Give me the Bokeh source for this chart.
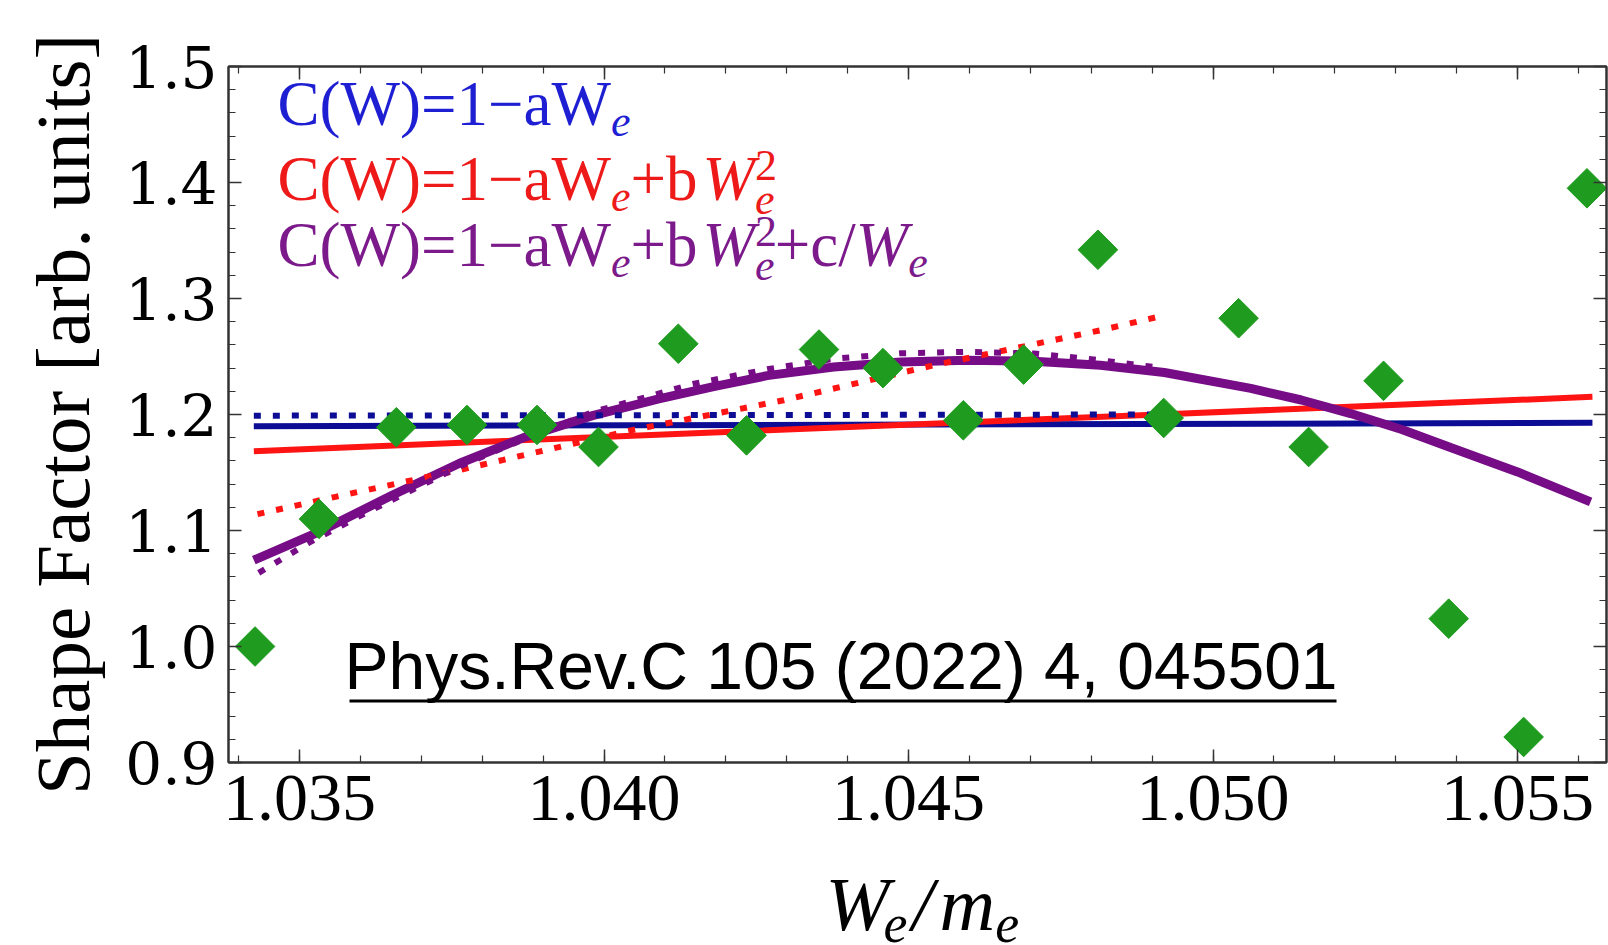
import numpy as np
from bokeh.plotting import figure
from bokeh.layouts import column
from bokeh.models import (Range1d, LinearAxis, FixedTicker, PrintfTickFormatter,
                          CustomJSTickFormatter, Label, BoxAnnotation)
from bokeh.embed import file_html
from bokeh.resources import INLINE

# ---- measured shape factor (green diamonds) ----
w_data = [1.03427, 1.03532, 1.03659, 1.03775, 1.03890, 1.03991, 1.04122, 1.04234,
          1.04353, 1.04458, 1.04590, 1.04689, 1.04811, 1.04919, 1.05042, 1.05157,
          1.05280, 1.05387, 1.05510, 1.05614]
s_data = [1.000, 1.110, 1.189, 1.191, 1.191, 1.172, 1.261, 1.182,
          1.256, 1.240, 1.195, 1.243, 1.342, 1.197, 1.283, 1.172,
          1.229, 1.024, 0.922, 1.395]

# ---- fits over the full range (solid) ----
lin_full_w = [1.03425, 1.05623]
lin_full_c = [1.1899, 1.1928]

quad_full_w = [1.03425, 1.04159, 1.04952, 1.05623]
quad_full_c = [1.1684, 1.1840, 1.2009, 1.2152]

inv_full_w = [1.03425, 1.03532, 1.03652, 1.03762, 1.03871, 1.03981, 1.04090, 1.04180,
              1.04268, 1.04377, 1.04487, 1.04596, 1.04706, 1.04815, 1.04920, 1.05062,
              1.05145, 1.05226, 1.05310, 1.05390, 1.05500, 1.05620]
inv_full_c = [1.0744, 1.0988, 1.1304, 1.1578, 1.1807, 1.1990, 1.2135, 1.2240,
              1.2335, 1.2410, 1.2453, 1.2468, 1.2459, 1.2425, 1.2362, 1.2225,
              1.2125, 1.2008, 1.1870, 1.1715, 1.1505, 1.1247]

# ---- fits over the restricted range (dotted) ----
lin_part_w = [1.03425, 1.04920]
lin_part_c = [1.1990, 1.2000]

quad_part_w = [1.03431, 1.03559, 1.03773, 1.04046, 1.04295, 1.04542, 1.04816, 1.04914]
quad_part_c = [1.1141, 1.1290, 1.1534, 1.1865, 1.2123, 1.2425, 1.2727, 1.2847]

inv_part_w = [1.03433, 1.03515, 1.03597, 1.03762, 1.03871, 1.03981, 1.04145, 1.04268,
              1.04377, 1.04487, 1.04596, 1.04706, 1.04804, 1.04910]
inv_part_c = [1.0635, 1.0893, 1.1120, 1.1550, 1.1794, 1.2020, 1.2262, 1.2390,
              1.2480, 1.2528, 1.2540, 1.2526, 1.2475, 1.2405]

# ---- axis ticks ----
x_major = [1.035, 1.040, 1.045, 1.050, 1.055]
x_minor = [round(1.034 + 0.001 * i, 3) for i in range(23)]
y_major = [0.9, 1.0, 1.1, 1.2, 1.3, 1.4, 1.5]
y_minor = [round(0.9 + 0.02 * i, 2) for i in range(31)]

BLUE = "#0c0c94"
RED = "#ff1414"
PURPLE = "#760c86"
GREEN = "#1f9c1f"
FRAME = "#333333"

PLOT_H = 850
TITLE_H = 95
LEFT_BORDER = 228

p = figure(width=1608, height=PLOT_H,
           x_range=Range1d(1.033834, 1.056461), y_range=Range1d(0.9, 1.5),
           output_backend="svg", toolbar_location=None,
           min_border_left=LEFT_BORDER, min_border_right=2, min_border_top=66,
           min_border_bottom=PLOT_H - 762)
p.grid.visible = False
p.background_fill_color = "white"
p.border_fill_color = "white"
p.outline_line_color = FRAME
p.outline_line_width = 2

xticker = FixedTicker(ticks=x_major, minor_ticks=x_minor)
yticker = FixedTicker(ticks=y_major, minor_ticks=y_minor)

bottom = p.below[0]
left = p.left[0]
bottom.ticker = xticker
left.ticker = yticker
bottom.formatter = PrintfTickFormatter(format="%.3f")
left.formatter = PrintfTickFormatter(format="%.1f")

blank = CustomJSTickFormatter(code="return ''")
top_axis = LinearAxis(ticker=xticker, formatter=blank, major_label_standoff=0,
                      major_label_text_font_size="0px")
right_axis = LinearAxis(ticker=yticker, formatter=blank, major_label_standoff=0,
                        major_label_text_font_size="0px")
p.add_layout(top_axis, "above")
p.add_layout(right_axis, "right")

for ax in [bottom, left, top_axis, right_axis]:
    ax.major_tick_in = 13
    ax.major_tick_out = 0
    ax.minor_tick_in = 7
    ax.minor_tick_out = 0
    ax.axis_line_color = FRAME
    ax.axis_line_width = 2
    ax.major_tick_line_color = FRAME
    ax.major_tick_line_width = 1.5
    ax.minor_tick_line_color = FRAME
    ax.minor_tick_line_width = 1.2

bottom.major_label_text_font = "Liberation Serif"
bottom.major_label_text_font_size = "68px"
bottom.major_label_text_color = "black"
bottom.major_label_standoff = 13

left.major_label_text_font = "DejaVu Serif"
left.major_label_text_font_size = "58px"
left.major_label_text_color = "black"
left.major_label_standoff = 11

left.axis_label = "Shape Factor [arb. units]"
left.axis_label_text_font = "Liberation Serif"
left.axis_label_text_font_size = "77px"
left.axis_label_text_font_style = "normal"
left.axis_label_text_color = "black"
left.axis_label_standoff = 16

# solid fits (full range)
p.line(lin_full_w, lin_full_c, line_color=BLUE, line_width=6)
p.line(quad_full_w, quad_full_c, line_color=RED, line_width=6)
p.line(inv_full_w, inv_full_c, line_color=PURPLE, line_width=9)

# dotted fits (restricted range)
p.line(lin_part_w, lin_part_c, line_color=BLUE, line_width=6, line_dash="7 12")
p.line(quad_part_w, quad_part_c, line_color=RED, line_width=6, line_dash="7 12")
p.line(inv_part_w, inv_part_c, line_color=PURPLE, line_width=6, line_dash="7 12")

# data points as diamonds
p.scatter(w_data, s_data, marker="square", size=28, angle=np.pi / 4,
          fill_color=GREEN, line_color=GREEN)

# ---- strip below the plot that carries the x-axis title ----
# (its frame is aligned with the plot frame by the column layout)
t = figure(width=1608, height=TITLE_H, x_range=Range1d(0, 1), y_range=Range1d(0, 1),
           output_backend="svg", toolbar_location=None,
           x_axis_location=None, y_axis_location=None,
           min_border_left=0, min_border_right=0, min_border_top=0, min_border_bottom=0)
t.grid.visible = False
t.outline_line_color = None
t.background_fill_color = "white"
t.border_fill_color = "white"

# ---- composed formula text ----
REG = {'C': 0.667, '(': 0.333, 'W': 0.944, ')': 0.333, '=': 0.564, '1': 0.5,
       '\u2212': 0.564, 'a': 0.444, '+': 0.564, 'b': 0.5, 'c': 0.444, '/': 0.278,
       '2': 0.5, ' ': 0.25}
ITA = {'W': 0.833, 'e': 0.444, 'm': 0.722, '/': 0.278}
BASE_FIX = 0.35  # label anchor correction, as a fraction of the font size


def run_width(s, style, size):
    tbl = ITA if style == "italic" else REG
    return sum(tbl.get(ch, 0.5) for ch in s) * size


def add_label(fig, x, y, text, font, fs, style, color):
    fig.add_layout(Label(x=x, y=y + BASE_FIX * fs, x_units="screen", y_units="screen",
                         text=text, text_font=font, text_font_size=f"{fs:.1f}px",
                         text_font_style=style, text_color=color,
                         text_baseline="alphabetic", text_align="left"))


def add_run(fig, pieces, x, y, size, color, font="Liberation Serif"):
    """pieces: (text, style, rel_size, rel_shift, advance)"""
    for text, style, rel, shift, advance in pieces:
        if text == "":
            x += rel * size
            continue
        fs = size * rel
        add_label(fig, x, y + shift * size, text, font, fs, style, color)
        if advance:
            x += run_width(text, style, fs)


head = [("C(W)=1\u2212aW", "normal", 1.0, 0.0, True), ("e", "italic", 0.7, -0.17, True)]
sq = [("+b", "normal", 1.0, 0.0, True), ("", "normal", 0.08, 0, True),
      ("W", "italic", 1.0, 0.0, True),
      ("2", "normal", 0.7, 0.33, False), ("e", "italic", 0.7, -0.22, True)]
inv = [("+c/", "normal", 1.0, 0.0, True), ("W", "italic", 1.0, 0.0, True),
       ("e", "italic", 0.7, -0.17, True)]

LEG_FS = 63
add_run(p, head, 49, 636, LEG_FS, "#1e1ed2")
add_run(p, head + sq, 49, 561, LEG_FS, "#ee1a1a")
add_run(p, head + sq + inv, 49, 495, LEG_FS, "#7c1a8c")

# x axis title W_e/m_e
xt = [("W", "italic", 1.0, 0.0, True), ("", "normal", -0.08, 0, True),
      ("e", "italic", 0.7, -0.16, True), ("", "normal", 0.06, 0, True),
      ("/", "italic", 1.0, 0.0, True), ("", "normal", 0.08, 0, True),
      ("m", "italic", 1.0, 0.0, True), ("e", "italic", 0.7, -0.16, True)]
add_run(t, xt, 825 - LEFT_BORDER, 15, 77, "black")

# citation, underlined
add_label(p, 116, 73, "Phys.Rev.C 105 (2022) 4, 045501", "Liberation Sans", 66, "normal", "black")
p.add_layout(BoxAnnotation(left=121, right=1108, bottom=60, top=63,
                           left_units="screen", right_units="screen",
                           bottom_units="screen", top_units="screen",
                           fill_color="black", fill_alpha=1.0, line_color=None))

layout = column(p, t, spacing=0)
open("out.html", "w").write(file_html(layout, INLINE))
